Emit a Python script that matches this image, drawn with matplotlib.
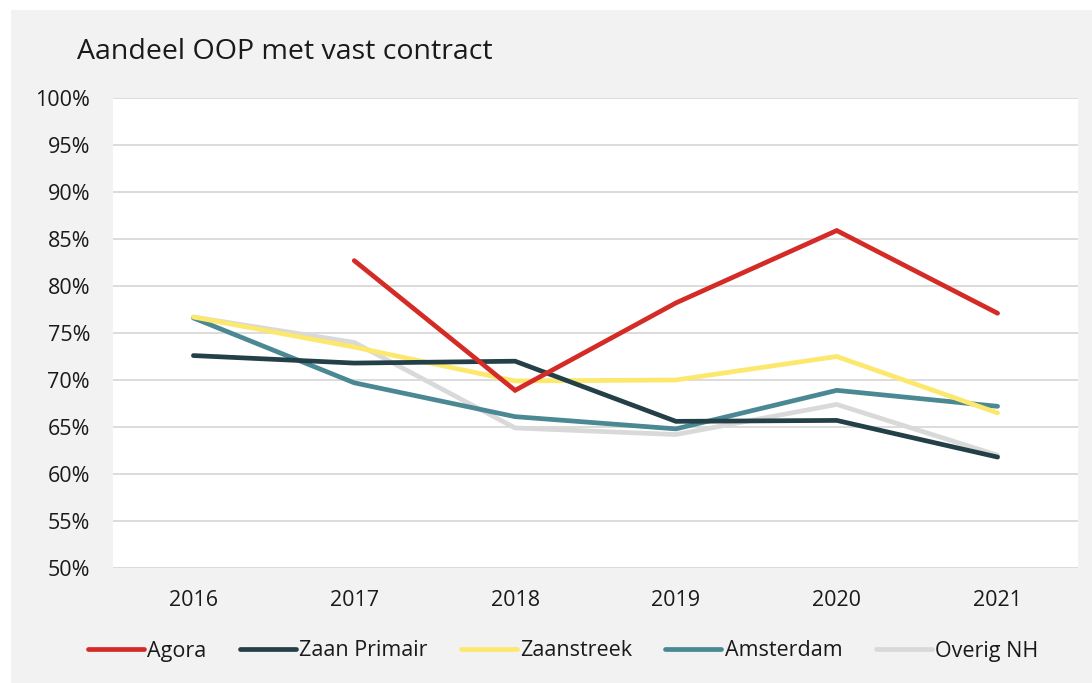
import matplotlib
matplotlib.use("Agg")
import matplotlib.pyplot as plt
import numpy as np

plt.rcParams['font.family'] = ['Open Sans', 'DejaVu Sans']

# data
years = ['2016', '2017', '2018', '2019', '2020', '2021']
agora = [np.nan, 82.7, 68.9, 78.2, 85.9, 77.1]
zaan_primair = [72.6, 71.8, 72.0, 65.6, 65.7, 61.8]
zaanstreek = [76.7, 73.5, 69.9, 70.0, 72.5, 66.5]
amsterdam = [76.6, 69.7, 66.1, 64.8, 68.9, 67.2]
overig_nh = [76.7, 74.0, 64.9, 64.2, 67.4, 62.0]
y_ticks = list(range(50, 101, 5))

series = [
    ('Agora', agora, '#d52b27'),
    ('Zaan Primair', zaan_primair, '#233f47'),
    ('Zaanstreek', zaanstreek, '#fbe86c'),
    ('Amsterdam', amsterdam, '#4a8893'),
    ('Overig NH', overig_nh, '#d9d9d9'),
]

fig = plt.figure(figsize=(10.92, 6.83), dpi=100, facecolor='w')
# light grey panel behind the chart
bg = fig.add_axes([11 / 1092, 0, 1 - 11 / 1092, (683 - 10) / 683], zorder=-1)
bg.set_facecolor('#f2f2f2')
bg.set_xticks([])
bg.set_yticks([])
for s in bg.spines.values():
    s.set_visible(False)

ax = fig.add_axes([113 / 1092, (683 - 568) / 683, 965 / 1092, 470 / 683])
ax.set_facecolor('w')

x = np.arange(len(years))
# draw back to front so Agora sits on top
for name, vals, col in reversed(series):
    ax.plot(x, vals, color=col, lw=3.4, solid_capstyle='round',
            solid_joinstyle='miter', label=name)

ax.set_xlim(-0.5, len(years) - 0.5)
ax.set_ylim(50, 100)
ax.set_yticks(y_ticks)
ax.set_yticklabels([f'{v}%' for v in y_ticks])
ax.set_xticks(x)
ax.set_xticklabels(years)
ax.tick_params(axis='both', length=0, labelsize=15.5, colors='#1a1a1a')
ax.tick_params(axis='y', pad=16.5)
ax.tick_params(axis='x', pad=15.5)
ax.grid(axis='y', color='#d9d9d9', lw=1.3)
ax.set_axisbelow(True)
for s in ax.spines.values():
    s.set_visible(False)

fig.text(77 / 1092, 1 - 52 / 683, 'Aandeel OOP met vast contract',
         fontsize=20.5, color='#1a1a1a', va='center', ha='left')

handles, labels = ax.get_legend_handles_labels()
leg = fig.legend(handles[::-1], labels[::-1], loc='center',
                 bbox_to_anchor=(563 / 1092, 1 - 651 / 683), ncol=5,
                 frameon=False, fontsize=15.5, handlelength=2.6,
                 handletextpad=0.15, columnspacing=1.55, labelcolor='#1a1a1a')

fig.savefig('out.png', dpi=100, facecolor=fig.get_facecolor())
